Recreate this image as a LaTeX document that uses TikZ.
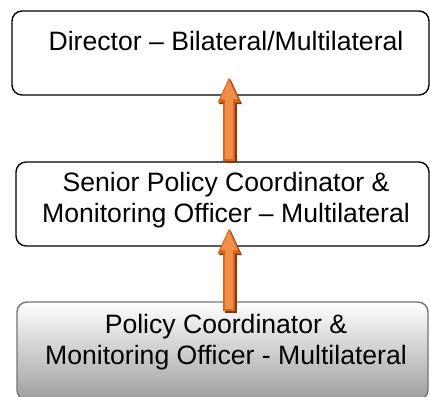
\documentclass[tikz,border=0pt]{standalone}
\usepackage{fontspec}
\setmainfont{Liberation Sans}
\usepackage{tikz}
\usetikzlibrary{arrows.meta}
\definecolor{arrowedge}{HTML}{D8661E}
\definecolor{arrowfill}{HTML}{F28E4A}
\definecolor{arrowshade}{HTML}{7A3A12}
\tikzstyle{box}     = [rectangle, draw, line width=1.4pt, rounded corners=10pt, inner sep=0pt]
\tikzstyle{caption} = [align=center, font=\fontsize{26.6pt}{31pt}\selectfont]
\tikzstyle{shade}   = [line width=12pt, draw=arrowshade, -{Triangle[width=23pt, length=25pt, line width=0pt]}]
\tikzstyle{arrow}   = [line width=12pt, draw=arrowedge, -{Triangle[width=23pt, length=25pt, line width=0pt]}]
\tikzstyle{glow}    = [line width=8pt, draw=arrowfill, -{Triangle[width=17pt, length=19pt, line width=0pt]}]

\begin{document}
\begin{tikzpicture}[x=1pt, y=1pt]
    \useasboundingbox (0,0) rectangle (430,396);

    % boxes
    \node (dir) at (220.5, 343) [box, minimum width=417pt, minimum height=84pt] {};
    \node (sen) at (222.5, 192) [box, minimum width=413pt, minimum height=84pt] {};
    \node (pol) at (222.5, 45)  [box, draw=black!55, top color=white, bottom color=black!38,
          minimum width=411pt, minimum height=98pt] {};

    % texts (the middle one is cut off at its last baseline)
    \node (dirtxt) at (226, 355) [caption] {Director -- Bilateral/Multilateral};
    \begin{scope}
        \clip (0, 165.5) rectangle (430, 396);
        \node (sentxt) at (226, 195.5) [caption] {Senior Policy Coordinator \&\\Monitoring Officer -- Multilateral};
    \end{scope}
    \node (poltxt) at (226, 53.5) [caption] {Policy Coordinator \&\\Monitoring Officer - Multilateral};

    % arrows
    \coordinate (tailA) at ([xshift=6.5pt]sen.north);
    \coordinate (tipA)  at ([xshift=8.5pt, yshift=18pt]dir.south);
    \coordinate (tailB) at ([xshift=6.5pt, yshift=-10pt]pol.north);
    \coordinate (tipB)  at ([xshift=6.5pt, yshift=18pt]sen.south);

    \draw [shade] ([shift={(1.5pt,-1.5pt)}]tailA) -- ([shift={(1.5pt,-1.5pt)}]tipA);
    \draw [arrow] (tailA) -- (tipA);
    \draw [glow]  ([yshift=2pt]tailA) -- ([yshift=-2.5pt]tipA);

    \draw [shade] ([shift={(1.5pt,-1.5pt)}]tailB) -- ([shift={(1.5pt,-1.5pt)}]tipB);
    \draw [arrow] (tailB) -- (tipB);
    \draw [glow]  ([yshift=2pt]tailB) -- ([yshift=-2.5pt]tipB);
\end{tikzpicture}
\end{document}
